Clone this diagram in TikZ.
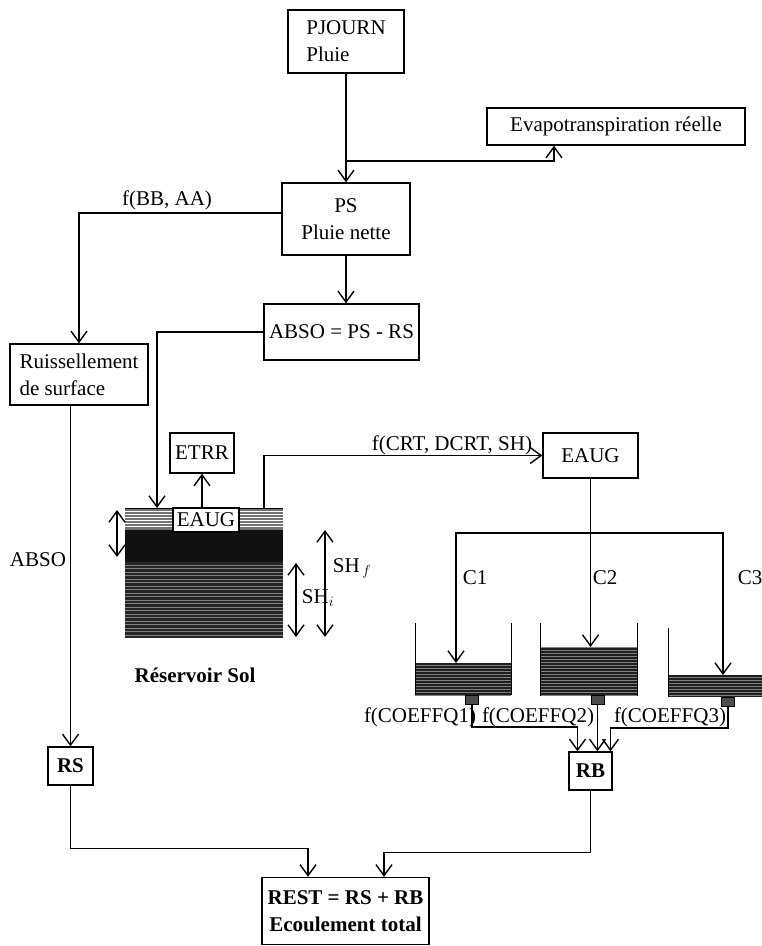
\documentclass[tikz,border=0pt]{standalone}
\usepackage{fontspec}
\setmainfont{Liberation Serif}
\usetikzlibrary{arrows.meta}
\begin{document}
\begin{tikzpicture}[x=1pt,y=-1pt,line width=1.4pt,
    font=\fontsize{21}{27}\selectfont,
    box/.style={draw,inner sep=0pt,align=center},
    txt/.style={inner sep=0pt},
    outlet/.style={draw,line width=0.8pt,fill=black!70,inner sep=0pt,minimum width=13pt,minimum height=9pt},
    arr/.style={-{Straight Barb[length=11pt,width=16pt]}},
    dbl/.style={{Straight Barb[length=11pt,width=16pt]}-{Straight Barb[length=11pt,width=16pt]}}]
  \useasboundingbox (0,0) rectangle (762,946);
  % soil reservoir
  \fill[black!55] (125,508) rectangle (283,530);
  \foreach \yy in {511,514,...,528} \draw[white,line width=0.5pt] (125,\yy) -- (283,\yy);
  \fill[black!93] (125,530) rectangle (283,562);
  \fill[black!85] (125,562) rectangle (283,638);
  \foreach \yy in {565,568.5,...,636} \draw[black!50,line width=0.4pt] (125,\yy) -- (283,\yy);
  \draw[line width=0.8pt] (125,508) -- (283,508);
  \coordinate (solin) at (157,508);
  \coordinate (solout) at (264,508);
  % groundwater tanks
  \foreach \l/\r/\t/\b in {415/511/663/695, 540/637/647/696, 668/762/675/697} {
    \begin{scope}
      \clip (\l,\t) rectangle (\r,\b);
      \fill[black!88] (\l,\t) rectangle (\r,\b);
      \foreach \yy in {640,643,...,700} \draw[black!50,line width=0.4pt] (\l,\yy+1) -- (\r,\yy+1);
    \end{scope}
  }
  \draw[line width=0.8pt] (415,623) -- (415,695) (511,623) -- (511,695)
    (540,623) -- (540,696) (637,623) -- (637,696) (668,628) -- (668,697);
  \coordinate (w1) at (456,663);
  \coordinate (w2) at (590.5,647);
  \coordinate (w3) at (723,675);
  \node[outlet] (out1) at (472,700) {};
  \node[outlet] (out2) at (597.5,700) {};
  \node[outlet] (out3) at (728,702) {};
  % boxes
  \node[box,align=left,minimum width=116pt,minimum height=63pt] (pjourn) at (346,41.5) {PJOURN\\Pluie};
  \node[box,minimum width=258pt,minimum height=37pt] (evap) at (616,126.5) {Evapotranspiration réelle};
  \node[box,minimum width=128pt,minimum height=72pt] (ps) at (346,219) {PS\\Pluie nette};
  \node[box,minimum width=155pt,minimum height=56pt] (absobox) at (341.5,332) {ABSO = PS - RS};
  \node[box,align=left,minimum width=138pt,minimum height=61pt] (ruiss) at (79,374.5) {Ruissellement\\de surface};
  \node[box,minimum width=64pt,minimum height=40pt] (etrr) at (202,453) {ETRR};
  \node[box,fill=white,minimum width=66pt,minimum height=24pt] (eaugsol) at (206,520) {EAUG};
  \node[box,minimum width=95pt,minimum height=45pt] (eaug) at (590.5,455.5) {EAUG};
  \node[box,minimum width=45pt,minimum height=38pt] (rs) at (70.5,766) {\textbf{RS}};
  \node[box,minimum width=43pt,minimum height=38pt] (rb) at (590.5,771) {\textbf{RB}};
  \node[box,minimum width=167pt,minimum height=67pt] (rest) at (345.5,911) {\textbf{REST = RS + RB}\\\textbf{Ecoulement total}};
  % labels
  \node[txt] (fbbaa) at (167,200) {f(BB, AA)};
  \node[txt] (fcrt) at (452,445) {f(CRT, DCRT, SH)};
  \node[txt] (absolab) at (38,560) {ABSO};
  \node[txt] (reslab) at (195,675) {\textbf{Réservoir Sol}};
  \node[txt] (c1) at (475,578) {C1};
  \node[txt] (c2) at (605,578) {C2};
  \node[txt] (c3) at (750,578) {C3};
  \node[txt] (fq1) at (420,717) {f(COEFFQ1)};
  \node[txt] (fq2) at (538,717) {f(COEFFQ2)};
  \node[txt] (fq3) at (670,717) {f(COEFFQ3)};
  \node[txt] (shf) at (352,568) {SH$_{\,f}$};
  \node[txt] (shi) at (318,598) {SH$_{i}$};
  % level markers
  \draw[dbl] (117,510) -- (117,557);
  \draw[dbl] (325,530) -- (325,637);
  \draw[dbl] (296,563) -- (296,637);
  % connectors
  \coordinate (split) at (346,161);
  \draw[arr] (pjourn.south) -- (ps.north);
  \draw[arr] (split) -| ([xshift=-62pt]evap.south);
  \draw[arr] ([yshift=6pt]ps.west) -| (ruiss.north);
  \draw[arr] (ps.south) -- (ps.south |- absobox.north);
  \draw[arr] (absobox.west) -| (solin);
  \draw[arr] (rs.north |- ruiss.south) -- (rs.north);
  \draw[arr] (eaugsol.north -| etrr.south) -- (etrr.south);
  \draw[arr] (solout) |- (eaug.west);
  \coordinate (hub) at (590.5,533);
  \draw (eaug.south) -- (hub);
  \draw[arr] (hub) -| (w1);
  \draw[arr] (hub) -| (w3);
  \draw[arr] (hub) -- (w2);
  \draw[arr] (out1.south) -- ++(0,22) -| ([xshift=-13pt]rb.north);
  \draw[arr] (out2.south) -- (out2.south |- rb.north);
  \draw[arr] (out3.south) -- ++(0,21) -| ([xshift=20pt]rb.north);
  \draw[arr] (rs.south) -- ++(0,63) -| ([xshift=-37.5pt]rest.north);
  \draw[arr] (rb.south) -- ++(0,62) -| ([xshift=38.5pt]rest.north);
\end{tikzpicture}
\end{document}
